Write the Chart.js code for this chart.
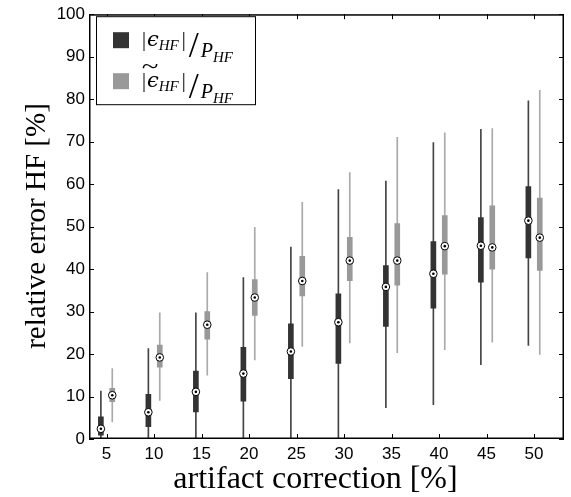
<!DOCTYPE html>
<html><head><meta charset="utf-8">
<script src="https://cdn.jsdelivr.net/npm/chart.js@4.4.1/dist/chart.umd.min.js"></script>
<style>html,body{margin:0;padding:0;background:#fff;}#wrap{width:571px;height:497px;}</style>
</head><body><div id="wrap"><canvas id="c" width="571" height="497"></canvas></div>
<script>
const categories = [5,10,15,20,25,30,35,40,45,50];
// series 1: |eps_HF|/P_HF (dark)
const darkLow  = [0,0,0,0,0,0,7.4,8.1,17.5,22.0];
const darkQ1   = [0.9,2.9,6.4,8.9,14.2,17.8,26.5,30.8,36.9,42.6];
const darkMed  = [2.4,6.3,11.1,15.4,20.6,27.5,35.8,38.9,45.5,51.4];
const darkQ3   = [5.2,10.5,16.0,21.6,27.1,34.2,40.8,46.5,52.1,59.4];
const darkHigh = [11.3,21.3,29.7,38.0,45.2,58.7,60.7,69.8,72.9,79.6];
// series 2: tilde |eps_HF|/P_HF (gray)
const grayLow  = [4.0,9.1,15.0,18.6,21.8,22.6,20.3,21.0,22.8,19.9];
const grayQ1   = [8.8,16.9,23.5,29.1,33.7,37.3,36.2,38.8,40.0,39.7];
const grayMed  = [10.3,19.2,26.9,33.3,37.2,42.0,42.0,45.4,45.1,47.4];
const grayQ3   = [11.9,22.1,30.0,37.5,43.0,47.5,50.7,52.6,54.9,56.7];
const grayHigh = [16.6,29.7,39.2,49.8,55.7,62.7,71.0,72.1,73.1,82.1];
const xTickLabels = [5,10,15,20,25,30,35,40,45,50];
const yTickLabels = [0,10,20,30,40,50,60,70,80,90,100];
const xTitle = 'artifact correction [%]';
const yTitle = 'relative error HF [%]';

const DARK = '#333333', GRAY = '#999999';
const OFF = 0.6;
const ranges = (off, lo, hi) => categories.map((c,i)=>({x:c+off, y:[lo[i], hi[i]]}));
const pts = (off, v) => categories.map((c,i)=>({x:c+off, y:v[i]}));

const decor = {
  id:'decor',
  afterDraw(chart){
    const ctx = chart.ctx;
    const {left,right,top,bottom} = chart.chartArea;
    const xs = chart.scales.x, ys = chart.scales.y;
    ctx.save();
    ctx.strokeStyle = '#000';
    ctx.lineWidth = 1;
    ctx.beginPath();
    for (const v of yTickLabels){
      const p = Math.round(ys.getPixelForValue(v)) + 0.5;
      ctx.moveTo(left, p); ctx.lineTo(left+5, p);
      ctx.moveTo(right, p); ctx.lineTo(right-5, p);
    }
    for (const v of xTickLabels){
      const p = Math.round(xs.getPixelForValue(v)) + 0.5;
      ctx.moveTo(p, bottom); ctx.lineTo(p, bottom-5);
      ctx.moveTo(p, top); ctx.lineTo(p, top+5);
    }
    ctx.stroke();
    ctx.lineWidth = 1.5;
    ctx.strokeRect(left+0.75, top+0.75, right-left-1.5, bottom-top-1.5);

    // axis titles
    ctx.fillStyle = '#000';
    ctx.textBaseline = 'alphabetic';
    ctx.textAlign = 'center';
    ctx.font = '32px "Liberation Serif"';
    ctx.fillText(xTitle, 315.5, 488);
    ctx.save();
    ctx.translate(45, 226);
    ctx.rotate(-Math.PI/2);
    ctx.font = '29px "Liberation Serif"';
    ctx.fillText(yTitle, 0, 0);
    ctx.restore();

    // legend
    ctx.lineWidth = 1;
    const lx = left + 7, ly = top + 2;
    ctx.fillStyle = '#fff';
    ctx.fillRect(lx, ly, 160, 89);
    ctx.strokeRect(lx+0.5, ly+0.5, 159, 88);
    const items = [{c:DARK, dy:0, tilde:false},{c:GRAY, dy:41, tilde:true}];
    for (const it of items){
      ctx.fillStyle = it.c;
      ctx.fillRect(lx+17, ly+16+it.dy, 16, 16);
      ctx.fillStyle = '#000';
      ctx.textAlign = 'left';
      const by = ly + 30 + it.dy;
      let x = lx + 46;
      const startX = x;
      ctx.font = '20px "Liberation Serif"';
      ctx.fillText('|', x, by); x += ctx.measureText('|').width + 1;
      ctx.font = 'italic 21px "DejaVu Serif"';
      ctx.fillText('\u03F5', x, by); x += ctx.measureText('\u03F5').width;
      ctx.font = 'italic 15px "Liberation Serif"';
      ctx.fillText('HF', x, by+4); x += ctx.measureText('HF').width + 3;
      ctx.font = '20px "Liberation Serif"';
      ctx.fillText('|', x, by);
      if (it.tilde){
        ctx.save();
        ctx.font = '22px "Liberation Serif"';
        ctx.translate(startX+8, by-14);
        ctx.scale(1.4,1);
        ctx.textAlign = 'center';
        ctx.fillText('~', 0, 0);
        ctx.restore();
        ctx.textAlign = 'left';
      }
      x += ctx.measureText('|').width + 3;
      ctx.font = '36px "Liberation Serif"';
      ctx.fillText('/', x, by+11); x += ctx.measureText('/').width + 2;
      ctx.font = 'italic 20px "Liberation Serif"';
      ctx.fillText('P', x, by+11); x += ctx.measureText('P').width;
      ctx.font = 'italic 15px "Liberation Serif"';
      ctx.fillText('HF', x, by+16);
    }
    ctx.restore();
  }
};

new Chart(document.getElementById('c'), {
  type:'bar',
  data:{ datasets:[
    {type:'scatter', data:pts(-OFF, darkMed), pointRadius:1.3, pointBackgroundColor:'#000', pointBorderWidth:0, order:0},
    {type:'scatter', data:pts(OFF, grayMed), pointRadius:1.3, pointBackgroundColor:'#000', pointBorderWidth:0, order:0},
    {type:'scatter', data:pts(-OFF, darkMed), pointRadius:3.8, pointBackgroundColor:'#fff', pointBorderColor:'#000', pointBorderWidth:1, order:1},
    {type:'scatter', data:pts(OFF, grayMed), pointRadius:3.8, pointBackgroundColor:'#fff', pointBorderColor:'#000', pointBorderWidth:1, order:1},
    {data:ranges(-OFF, darkQ1, darkQ3), backgroundColor:DARK, barThickness:5, grouped:false, order:2},
    {data:ranges(OFF, grayQ1, grayQ3), backgroundColor:GRAY, barThickness:5, grouped:false, order:2},
    {data:ranges(-OFF, darkLow, darkHigh), backgroundColor:'#444444', barThickness:1, grouped:false, order:3},
    {data:ranges(OFF, grayLow, grayHigh), backgroundColor:'#aaaaaa', barThickness:1, grouped:false, order:3}
  ]},
  options:{
    responsive:false, animation:false, events:[],
    layout:{padding:{top:11, right:7, left:0, bottom:0}},
    plugins:{legend:{display:false}, tooltip:{enabled:false}},
    scales:{
      x:{type:'linear', min:3.15, max:53.15, offset:false,
         afterBuildTicks:(s)=>{ s.ticks = xTickLabels.map(v=>({value:v})); },
         afterFit:(s)=>{ s.height = 58; },
         grid:{display:false, drawTicks:false, offset:false}, border:{display:false},
         ticks:{color:'#000', font:{family:'"Liberation Sans"', size:17}, padding:5, maxRotation:0, autoSkip:false}},
      y:{min:0, max:100,
         afterBuildTicks:(s)=>{ s.ticks = yTickLabels.map(v=>({value:v})); },
         afterFit:(s)=>{ s.width = 89; },
         grid:{display:false, drawTicks:false}, border:{display:false},
         ticks:{color:'#000', font:{family:'"Liberation Sans"', size:17}, padding:4}}
    }
  },
  plugins:[decor]
});
</script></body></html>
